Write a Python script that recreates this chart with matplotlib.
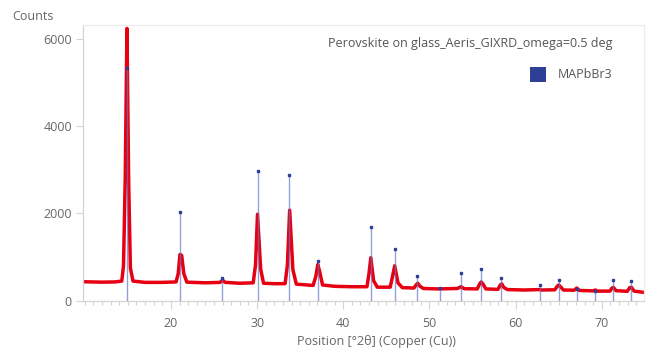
"""Recreate the GIXRD pattern of perovskite on glass with MAPbBr3 reference sticks."""

import matplotlib
import matplotlib.pyplot as plt
from matplotlib.patches import Rectangle
from matplotlib.ticker import MultipleLocator

matplotlib.use("Agg")

plt.rcParams["font.family"] = ["Open Sans", "DejaVu Sans"]

scan_two_theta = [
    9.8, 12.0, 13.5, 14.3, 14.5, 14.7, 14.9, 15.1, 15.3, 15.6,
    17.0, 19.0, 20.6, 20.85, 21.05, 21.25, 21.5, 21.85,
    24.0, 25.7, 26.0, 26.3, 28.0, 29.55, 29.82, 30.05, 30.42, 30.75,
    32.0, 33.25, 33.52, 33.78, 34.15, 34.55,
    36.5, 36.82, 37.05, 37.27, 37.6, 39.0, 41.0,
    42.75, 42.98, 43.2, 43.52, 43.95,
    45.45, 45.72, 45.97, 46.35, 46.85,
    48.2, 48.45, 48.65, 48.88, 49.3, 51.0,
    53.25, 53.65, 54.05, 55.55, 55.82, 56.0, 56.22, 56.55,
    57.95, 58.22, 58.4, 58.62, 59.05, 61.0, 62.8, 63.0,
    64.55, 64.83, 65.0, 65.22, 65.55, 66.8, 67.1, 67.4,
    69.0, 69.25, 69.5, 70.95, 71.18, 71.35, 71.65,
    72.95, 73.25, 73.45, 73.75, 74.9,
]
scan_counts = [
    435, 425, 430, 450, 800, 2800, 6240, 2700, 750, 450,
    420, 420, 430, 620, 1060, 1040, 620, 425,
    410, 420, 470, 420, 400, 410, 820, 1980, 720, 400,
    390, 390, 820, 2075, 720, 380,
    350, 560, 830, 660, 360, 330, 320,
    320, 610, 985, 460, 310,
    310, 560, 800, 410, 300,
    290, 360, 400, 335, 280, 270,
    280, 320, 275, 270, 380, 430, 380, 270,
    260, 360, 385, 305, 255, 245, 255, 245,
    250, 330, 360, 320, 245, 240, 290, 235,
    225, 245, 220, 220, 290, 305, 230,
    215, 300, 305, 220, 190,
]

# MAPbBr3 reference pattern
ref_two_theta = [
    14.85, 21.1, 25.95, 30.1, 33.75, 37.1, 43.2, 45.97, 48.6, 51.2,
    53.65, 55.95, 58.35, 62.8, 64.98, 67.1, 69.25, 71.3, 73.35,
]
ref_counts = [
    5330, 2035, 510, 2975, 2885, 910, 1695, 1185, 570, 300,
    625, 730, 520, 365, 480, 275, 230, 480, 445,
]

x_tick_values = [20, 30, 40, 50, 60, 70]
y_tick_values = [0, 2000, 4000, 6000]

scan_name = "Perovskite on glass_Aeris_GIXRD_omega=0.5 deg"
ref_name = "MAPbBr3"

GRID_GREY = "#d4d4d4"
TEXT_GREY = "#666666"
SCAN_RED = "#e60012"
REF_BLUE = "#2e3f96"

figure = plt.figure(figsize=(6.49, 3.5), dpi=100)
axis = figure.add_axes([83 / 649, 49.3 / 350, (644 - 83) / 649, (300.7 - 25) / 350])

axis.plot(scan_two_theta, scan_counts, color=SCAN_RED, linewidth=2.5, zorder=2,
          solid_joinstyle="round")
axis.vlines(ref_two_theta, 0, ref_counts, color="#6676c4", linewidth=1.0, alpha=0.7, zorder=3)
axis.plot(ref_two_theta, ref_counts, linestyle="none", marker="s", markersize=1.6,
          color=REF_BLUE, zorder=4)

axis.set_xlim(9.8, 74.9)
axis.set_ylim(0, 6320)
axis.set_xticks(x_tick_values)
axis.xaxis.set_minor_locator(MultipleLocator(1))
axis.set_yticks(y_tick_values)

axis.tick_params(axis="both", which="major", colors=GRID_GREY, labelcolor=TEXT_GREY,
                 labelsize=9, length=6, width=0.8)
axis.tick_params(axis="x", which="minor", colors=GRID_GREY, length=3, width=0.8)
axis.tick_params(axis="y", which="major", length=5, pad=3)
axis.tick_params(axis="x", which="major", pad=6)

axis.spines["left"].set_color(GRID_GREY)
axis.spines["bottom"].set_color(GRID_GREY)
axis.spines["top"].set_color("#ececec")
axis.spines["right"].set_color("#ececec")
for spine in axis.spines.values():
    spine.set_linewidth(0.9)

figure.text(12 / 649, 1 - 16 / 350, "Counts", ha="left", va="center",
            color=TEXT_GREY, fontsize=9)
figure.text(376 / 649, 1 - 341 / 350, "Position [°2θ] (Copper (Cu))", ha="center",
            va="center", color=TEXT_GREY, fontsize=9)

# legend drawn as in the source software: title line, then swatch and name
figure.text(612 / 649, 1 - 43.5 / 350, scan_name, ha="right", va="center",
            color="#555555", fontsize=9)
figure.patches.append(Rectangle((530 / 649, 1 - 81.5 / 350), 16 / 649, 15 / 350,
                                transform=figure.transFigure, facecolor=REF_BLUE,
                                edgecolor="none"))
figure.text(558 / 649, 1 - 74.3 / 350, ref_name, ha="left", va="center",
            color="#555555", fontsize=9)

figure.savefig("out.png", dpi=100)
plt.close(figure)
